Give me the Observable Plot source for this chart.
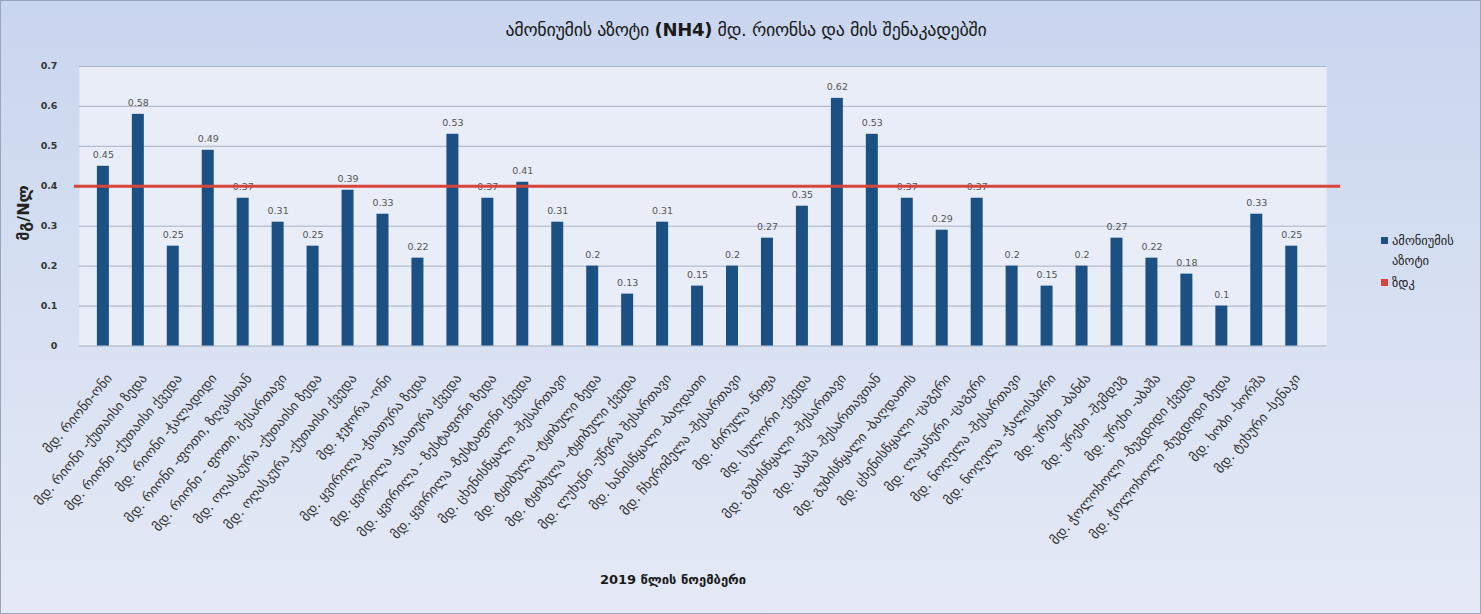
<!DOCTYPE html>
<html>
<head>
<meta charset="utf-8">
<script src="https://cdn.jsdelivr.net/npm/d3@7"></script>
<script src="https://cdn.jsdelivr.net/npm/@observablehq/plot@0.6"></script>
<style>
  body { margin: 0; background: #fff; }
  #wrap {
    position: relative; width: 1481px; height: 614px; box-sizing: border-box;
    border: 1px solid #98a5bd; overflow: hidden;
    background: linear-gradient(180deg, #c9d6ef 0%, #d6dff2 45%, #e4e9f5 100%);
    font-family: "DejaVu Sans", sans-serif;
  }
  #chart { position: absolute; left: 0; top: 0; }
  .title { position: absolute; top: 18px; left: 0; width: 1490px; text-align: center; font-size: 18px; color: #1a1a1a; letter-spacing: -0.3px; }
  .xtitle { position: absolute; top: 571px; left: 0; width: 1344px; text-align: center; font-size: 13px; font-weight: bold; color: #1a1a1a; }
  .ytitle { position: absolute; left: 22px; top: 212px; transform: translate(-50%, -50%) rotate(-90deg); font-size: 16px; font-weight: bold; color: #222; white-space: nowrap; }
  .legend { position: absolute; left: 1380px; font-size: 12.5px; color: #222; line-height: 20px; }
  .sw { display: inline-block; width: 7px; height: 7px; margin-right: 4px; vertical-align: 1px; }
</style>
</head>
<body>
<div id="wrap">
  <div id="chart"></div>
  <div class="title">ამონიუმის აზოტი <b>(NH4)</b> მდ. რიონსა და მის შენაკადებში</div>
  <div class="xtitle">2019 წლის ნოემბერი</div>
  <div class="ytitle">მგ/Nლ</div>
  <div class="legend" style="top:230px"><span class="sw" style="background:#1c4f82"></span>ამონიუმის<br><span style="padding-left:11px">აზოტი</span></div>
  <div class="legend" style="top:272px"><span class="sw" style="background:#d9453b"></span>ზდკ</div>
</div>
<script>
const stations = [
  "მდ. რიონი-ონი",
  "მდ. რიონი -ქუთაისი ზედა",
  "მდ. რიონი -ქუთაისი ქვედა",
  "მდ. რიონი -ჭალადიდი",
  "მდ. რიონი -ფოთი, ზღვასთან",
  "მდ. რიონი - ფოთი, შესართავი",
  "მდ. ოღასკურა -ქუთაისი ზედა",
  "მდ. ოღასკურა -ქუთაისი ქვედა",
  "მდ. ჯეჯორა -ონი",
  "მდ. ყვირილა -ჭიათურა ზედა",
  "მდ. ყვირილა -ჭიათურა ქვედა",
  "მდ. ყვირილა - ზესტაფონი ზედა",
  "მდ. ყვირილა -ზესტაფონი ქვედა",
  "მდ. ცხენისწყალი -შესართავი",
  "მდ. ტყიბულა -ტყიბული ზედა",
  "მდ. ტყიბულა -ტყიბული ქვედა",
  "მდ. ლუხუნი -უწერა შესართავი",
  "მდ. ხანისწყალი -ბაღდათი",
  "მდ. ჩხერიმელა -შესართავი",
  "მდ. ძირულა -წიფა",
  "მდ. სულორი -ქვედა",
  "მდ. გუბისწყალი -შესართავი",
  "მდ. აბაშა -შესართავთან",
  "მდ. გუბისწყალი -ბაღდათის",
  "მდ. ცხენისწყალი -ცაგერი",
  "მდ. ლაჯანური -ცაგერი",
  "მდ. ნოღელა -შესართავი",
  "მდ. ნოღელა -ჭალისპირი",
  "მდ. ურეხი -ბანძა",
  "მდ. ურეხი -შემდეგ",
  "მდ. ურეხი -აბაშა",
  "მდ. ჭოლოხოლი -ზუგდიდი ქვედა",
  "მდ. ჭოლოხოლი -ზუგდიდი ზედა",
  "მდ. ხობი -ხორშა",
  "მდ. ტეხური -სენაკი"
];
const ammonium = [0.45, 0.58, 0.25, 0.49, 0.37, 0.31, 0.25, 0.39, 0.33, 0.22,
                  0.53, 0.37, 0.41, 0.31, 0.2, 0.13, 0.31, 0.15, 0.2, 0.27,
                  0.35, 0.62, 0.53, 0.37, 0.29, 0.37, 0.2, 0.15, 0.2, 0.27,
                  0.22, 0.18, 0.1, 0.33, 0.25];
const zdk = [0.4];
const yTicks = [0, 0.1, 0.2, 0.3, 0.4, 0.5, 0.6, 0.7];

const data = stations.map((s, i) => ({station: s, value: ammonium[i]}));

const plot = Plot.plot({
  width: 1481,
  height: 614,
  marginTop: 65,
  marginBottom: 269,
  marginLeft: 78,
  marginRight: 165,
  style: {background: "transparent", fontFamily: "DejaVu Sans", color: "#333"},
  x: {domain: stations, paddingInner: 0.664, paddingOuter: 0.14, label: null},
  y: {domain: [0, 0.7], label: null},
  marks: [
    Plot.frame({fill: "#e8edf8", stroke: null, insetRight: -11}),
    Plot.ruleY(yTicks, {stroke: "#a9b2c2", strokeWidth: 1, insetRight: -11}),
    Plot.barY(data, {x: "station", y: "value", fill: "#1c4f82"}),
    Plot.text(data, {x: "station", y: "value", text: d => String(d.value), dy: -11, fontSize: 9.5, fill: "#555"}),
    Plot.ruleY(zdk, {stroke: "#d9453b", strokeWidth: 3, insetLeft: -5, insetRight: -25}),
    Plot.axisY({ticks: yTicks, tickFormat: d => d === 0 ? "0" : d.toFixed(1), tickSize: 0, tickPadding: 22, fontSize: 9.5, fontWeight: "bold", fill: "#333", label: null}),
    Plot.axisX({tickRotate: -50, tickSize: 0, tickPadding: 30, dx: 6, fontSize: 13.5, fill: "#333", label: null})
  ]
});
document.getElementById("chart").appendChild(plot);
</script>
</body>
</html>
